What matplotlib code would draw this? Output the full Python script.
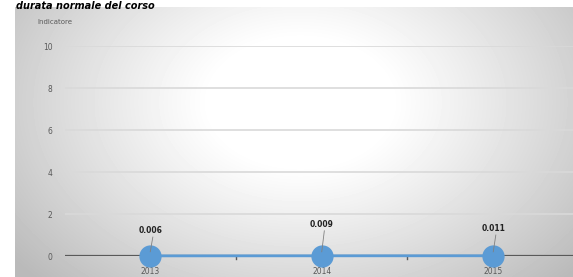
import numpy as np
import matplotlib.pyplot as plt

years = ['2013', '2014', '2015']
values = [0.006, 0.009, 0.011]
labels = ['0.006', '0.009', '0.011']
yticks = [0, 2, 4, 6, 8, 10]

# label heights (excel placed them a bit unevenly)
label_y = [1.0, 1.3, 1.1]

W, H = 573, 277
fig = plt.figure(figsize=(W / 100, H / 100), dpi=100)
fig.patch.set_facecolor('white')

# radial gray background of the chart box
bg = fig.add_axes([15 / W, 0, 1 - 15 / W, (H - 7) / H])
yy, xx = np.mgrid[0:270, 0:558]
d = np.sqrt(((xx - 285) / 300) ** 2 + ((yy - 95) / 210) ** 2)
g = np.clip(1.0 - 0.3 * np.clip(d - 0.3, 0, None) ** 1.1, 0.73, 1.0)
bg.imshow(g, cmap='gray', vmin=0, vmax=1, aspect='auto', interpolation='bilinear')
bg.axis('off')

# main plot area
left, right = 64.5, 579
y0, y10 = 256, 46
ax = fig.add_axes([left / W, (H - y0) / H, (right - left) / W, (y0 - y10) / H])
ax.set_facecolor('none')
x = np.arange(len(years))
ax.set_xlim(-0.5, 2.5)
ax.set_ylim(0, 10)
for t in yticks[1:]:
    ax.axhline(t, color='#d9d9d9', lw=1.2, zorder=1)
ax.axhline(0, color='#595959', lw=1.6, zorder=2)
ax.plot(x, values, color='#5b9bd5', lw=2.0, zorder=3, marker='o', clip_on=False,
        markersize=15, markerfacecolor='#5b9bd5', markeredgecolor='#5b9bd5')
for xi, ly, lab in zip(x, label_y, labels):
    ax.plot([xi, xi + 0.015], [0.2, ly - 0.1], color='#808080', lw=0.6, zorder=4)
    ax.text(xi, ly, lab, ha='center', va='bottom', fontsize=5.5,
            fontweight='bold', color='#222222', zorder=5)
for b in [0.5, 1.5]:
    ax.plot([b, b], [-0.15, 0], color='#595959', lw=1, clip_on=False)

ax.set_yticks(yticks)
ax.set_yticklabels([str(t) for t in yticks], fontsize=5.5, color='#595959')
ax.set_xticks(x)
ax.set_xticklabels(years, fontsize=5.5, color='#595959')
ax.tick_params(length=0, pad=8.5, axis='y')
ax.tick_params(length=0, pad=8, axis='x')
for s in ax.spines.values():
    s.set_visible(False)

fig.text(37 / W, 1 - 22 / H, 'Indicatore', fontsize=5, color='#595959',
         va='center', ha='left')
fig.text(16 / W, 1 - 1 / H, 'durata normale del corso', fontsize=7,
         fontweight='bold', fontstyle='italic', va='top', ha='left')

fig.savefig('out.png', dpi=100)
